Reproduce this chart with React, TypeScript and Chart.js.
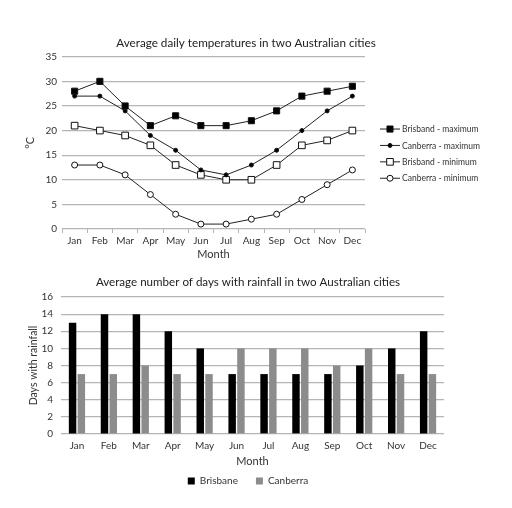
import React, { useEffect, useRef } from "react";
import { Chart, registerables } from "chart.js";

Chart.register(...registerables);

const months = ["Jan", "Feb", "Mar", "Apr", "May", "Jun", "Jul", "Aug", "Sep", "Oct", "Nov", "Dec"];
const brisbaneMax = [28, 30, 25, 21, 23, 21, 21, 22, 24, 27, 28, 29];
const canberraMax = [27, 27, 24, 19, 16, 12, 11, 13, 16, 20, 24, 27];
const brisbaneMin = [21, 20, 19, 17, 13, 11, 10, 10, 13, 17, 18, 20];
const canberraMin = [13, 13, 11, 7, 3, 1, 1, 2, 3, 6, 9, 12];
const brisbaneRain = [13, 14, 14, 12, 10, 7, 7, 7, 7, 8, 10, 12];
const canberraRain = [7, 7, 8, 7, 7, 10, 10, 10, 8, 10, 7, 7];
const tempLegend = ["Brisband - maximum", "Canberra - maximum", "Brisband - minimum", "Canberra - minimum"];
const rainLegend = ["Brisbane", "Canberra"];

const FONT = "Lato, 'Open Sans', sans-serif";
const GRID = "#b5b5b5";
const TEXT = "#333";

const lineLegendPlugin = {
  id: "lineLegend",
  afterDraw(chart: any) {
    const ctx = chart.ctx;
    const x0 = chart.chartArea.right + 15;
    const yStart = chart.chartArea.top + 72.3;
    const step = 16.4;
    ctx.save();
    chart.data.datasets.forEach((ds: any, i: number) => {
      const y = yStart + i * step;
      ctx.strokeStyle = ds.borderColor;
      ctx.lineWidth = 1;
      ctx.beginPath();
      ctx.moveTo(x0, y);
      ctx.lineTo(x0 + 20, y);
      ctx.stroke();
      const cx = x0 + 10;
      ctx.fillStyle = ds.pointBackgroundColor;
      ctx.strokeStyle = ds.pointBorderColor;
      ctx.lineWidth = 1;
      ctx.beginPath();
      if (ds.pointStyle === "rect") {
        const s = ds.pointRadius * Math.SQRT1_2;
        ctx.rect(cx - s, y - s, 2 * s, 2 * s);
      } else {
        ctx.arc(cx, y, ds.pointRadius, 0, Math.PI * 2);
      }
      ctx.fill();
      ctx.stroke();
      ctx.fillStyle = TEXT;
      ctx.font = `8.5px ${FONT}`;
      ctx.textBaseline = "middle";
      ctx.textAlign = "left";
      ctx.fillText(ds.label, x0 + 22, y + 0.5);
    });
    ctx.restore();
  },
};

const spacerAxis = (w: number) => ({
  position: "right",
  display: true,
  afterFit: (s: any) => { s.width = w; },
  grid: { drawOnChartArea: false, drawTicks: false },
  border: { display: false },
  ticks: { display: false },
});

export default function App() {
  const topRef = useRef<HTMLCanvasElement>(null);
  const botRef = useRef<HTMLCanvasElement>(null);

  useEffect(() => {
    const mk = (label: string, data: number[], style: string, r: number, fill: string) => ({
      label,
      data,
      yAxisID: "y",
      borderColor: "#222",
      borderWidth: 1,
      pointStyle: style,
      pointRadius: r,
      pointBackgroundColor: fill,
      pointBorderColor: "#111",
      pointBorderWidth: 1,
      tension: 0,
    });
    const top = new Chart(topRef.current!, {
      type: "line",
      data: {
        labels: months,
        datasets: [
          mk(tempLegend[0], brisbaneMax, "rect", 4.3, "#000"),
          mk(tempLegend[1], canberraMax, "circle", 2, "#000"),
          mk(tempLegend[2], brisbaneMin, "rect", 4.7, "#fff"),
          mk(tempLegend[3], canberraMin, "circle", 3, "#fff"),
        ],
      },
      options: {
        responsive: false,
        animation: false,
        layout: { padding: 0 },
        plugins: {
          legend: { display: false },
          tooltip: { enabled: false },
          title: {
            display: true,
            text: "Average daily temperatures in two Australian cities",
            color: "#222",
            font: { family: FONT, size: 11.7, weight: "normal" },
            padding: { top: 8.2, bottom: 6.5 },
          },
        },
        scales: {
          x: {
            offset: true,
            afterFit: (s: any) => { s.height = 34; },
            grid: { offset: true, drawOnChartArea: false, drawTicks: true, tickLength: 4, color: GRID },
            border: { display: false },
            ticks: { color: TEXT, font: { family: FONT, size: 10 }, padding: 2, maxRotation: 0 },
            title: { display: true, text: "Month", color: TEXT, font: { family: FONT, size: 11 }, padding: { top: 0, bottom: 2.4 } },
          },
          y: {
            min: 0,
            max: 35,
            afterFit: (s: any) => { s.width = 62; },
            grid: { color: GRID, lineWidth: 1.2, drawTicks: false },
            border: { display: false },
            ticks: { stepSize: 5, color: TEXT, font: { family: FONT, size: 10 }, padding: 5 },
            title: { display: true, text: "°C", color: TEXT, font: { family: FONT, size: 11 }, padding: { top: 23.4, bottom: 0 } },
          },
          yr: spacerAxis(127),
        },
      },
      plugins: [lineLegendPlugin],
    } as any);

    const bot = new Chart(botRef.current!, {
      type: "bar",
      data: {
        labels: months,
        datasets: [
          { label: rainLegend[0], data: brisbaneRain, yAxisID: "y", backgroundColor: "#000", categoryPercentage: 0.55, barPercentage: 0.85 },
          { label: rainLegend[1], data: canberraRain, yAxisID: "y", backgroundColor: "#8c8c8c", categoryPercentage: 0.55, barPercentage: 0.85 },
        ],
      },
      options: {
        responsive: false,
        animation: false,
        layout: { padding: 0 },
        plugins: {
          tooltip: { enabled: false },
          legend: {
            display: true,
            position: "bottom",
            labels: { boxWidth: 7, boxHeight: 7, color: TEXT, font: { family: FONT, size: 10 }, padding: 18 },
          },
          title: {
            display: true,
            text: "Average number of days with rainfall in two Australian cities",
            color: "#222",
            font: { family: FONT, size: 11.6, weight: "normal" },
            padding: { top: 7.7, bottom: 7.4 },
          },
        },
        scales: {
          x: {
            afterFit: (s: any) => { s.height = 24; },
            grid: { display: false, drawTicks: false },
            border: { display: false },
            ticks: { color: TEXT, font: { family: FONT, size: 10 }, padding: 6, maxRotation: 0 },
            title: { display: true, text: "Month", color: TEXT, font: { family: FONT, size: 11 }, padding: { top: 0, bottom: -9.6 } },
          },
          y: {
            min: 0,
            max: 16,
            afterFit: (s: any) => { s.width = 44; },
            grid: { color: GRID, lineWidth: 1.2, drawTicks: false },
            border: { display: false },
            ticks: { stepSize: 2, color: TEXT, font: { family: FONT, size: 10 }, padding: 8 },
            title: { display: true, text: "Days with rainfall", color: TEXT, font: { family: FONT, size: 10.5 }, padding: { top: 10, bottom: 0 } },
          },
          yr: spacerAxis(35),
        },
      },
    } as any);

    return () => {
      top.destroy();
      bot.destroy();
    };
  }, []);

  return (
    <div style={{ position: "fixed", left: 0, top: 0, width: 512, height: 508, background: "#fff" }}>
      <canvas ref={topRef} width={492} height={235} style={{ position: "absolute", left: 0, top: 28 }} />
      <canvas ref={botRef} width={462} height={228} style={{ position: "absolute", left: 17, top: 268 }} />
    </div>
  );
}
